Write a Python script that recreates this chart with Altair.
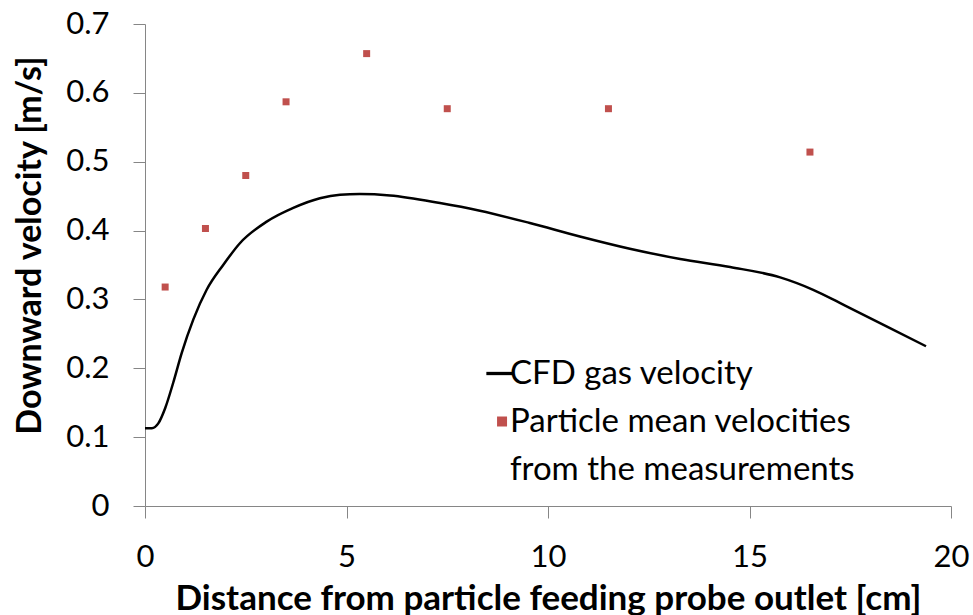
import altair as alt
import pandas as pd

# CFD gas velocity curve
cfd_x = [0, 0.17, 0.33, 0.50, 0.70, 0.91, 1.20, 1.53, 1.94, 2.36, 3.02, 3.68, 4.34,
         4.84, 5.33, 6.08, 7.32, 8.31, 9.55, 10.79, 12.03, 13.28, 14.52, 15.76,
         16.58, 17.41, 18.40, 19.38]
cfd_y = [0.113, 0.113, 0.120, 0.142, 0.179, 0.222, 0.271, 0.314, 0.350, 0.382, 0.413,
         0.433, 0.447, 0.452, 0.453, 0.451, 0.440, 0.4288, 0.411, 0.3915, 0.3737,
         0.3587, 0.347, 0.332, 0.314, 0.290, 0.261, 0.232]

# Particle mean velocities from the measurements
meas_x = [0.5, 1.5, 2.5, 3.5, 5.5, 7.5, 11.5, 16.5]
meas_y = [0.318, 0.403, 0.480, 0.587, 0.657, 0.577, 0.577, 0.514]

S1 = "CFD gas velocity"
S2 = "Particle mean velocities"
S2b = "from the measurements"

cfd = pd.DataFrame({"x": cfd_x, "y": cfd_y})
meas = pd.DataFrame({"x": meas_x, "y": meas_y})
legend_df = pd.DataFrame({"x": pd.Series([], dtype=float), "y": pd.Series([], dtype=float),
                          "series": pd.Series([], dtype=str)})

FONT = "Lato"

xenc = alt.X("x:Q", scale=alt.Scale(domain=[0, 20], nice=False),
             axis=alt.Axis(values=[0, 5, 10, 15, 20],
                           title="Distance from particle feeding probe outlet [cm]", format="d"))
yenc = alt.Y("y:Q", scale=alt.Scale(domain=[0, 0.7], nice=False),
             axis=alt.Axis(values=[0, 0.1, 0.2, 0.3, 0.4, 0.5, 0.6, 0.7],
                           title="Downward velocity [m/s]", titleY=221,
                           labelExpr="datum.value == 0 ? '0' : format(datum.value, '.1f')"))

line = alt.Chart(cfd).mark_line(interpolate="monotone", strokeWidth=2.5, color="black").encode(
    x=xenc, y=yenc
)

points = alt.Chart(meas).mark_point(shape="square", filled=True, size=49, opacity=1,
                                    color="#c0504d").encode(x=xenc, y=yenc)

LINE_PATH = "M-1.43,-0.33H4.0V0.33H-1.43Z"
SQUARE_PATH = "M0.71,-1H2.71V1H0.71Z"

legend = alt.Legend(
    title=None, orient="none", legendX=332, legendY=333,
    labelFont=FONT, labelFontSize=33, labelColor="black",
    rowPadding=14, labelOffset=0, labelLimit=600,
    symbolStrokeWidth=0, symbolOpacity=1,
)

legend_layer = alt.Chart(legend_df).mark_point(filled=True, size=49, opacity=1).encode(
    x=xenc, y=yenc,
    color=alt.Color("series:N", scale=alt.Scale(domain=[S1, S2, S2b],
                                                range=["#000000", "#c0504d", "#ffffff"]),
                    legend=legend),
    shape=alt.Shape("series:N", scale=alt.Scale(domain=[S1, S2, S2b],
                                                range=[LINE_PATH, SQUARE_PATH, SQUARE_PATH]),
                    legend=legend),
)

chart = alt.layer(line, points, legend_layer).properties(
    width=806, height=482,
    autosize=alt.AutoSizeParams(type="none"),
    padding={"left": 145, "top": 24, "right": 22, "bottom": 109},
).configure_view(stroke=None).configure_axis(
    domainColor="#868686", tickColor="#868686", tickSize=12, grid=False, labelFlush=False,
    labelFont=FONT, labelFontSize=31, labelColor="black",
    titleFont=FONT, titleFontSize=34, titleFontWeight="bold", titleColor="black",
).configure_axisX(labelPadding=24, titlePadding=9, titleFontSize=35).configure_axisY(
    labelPadding=24, titlePadding=18)

chart.save("out.html", embed_options={"renderer": "svg", "actions": False})
